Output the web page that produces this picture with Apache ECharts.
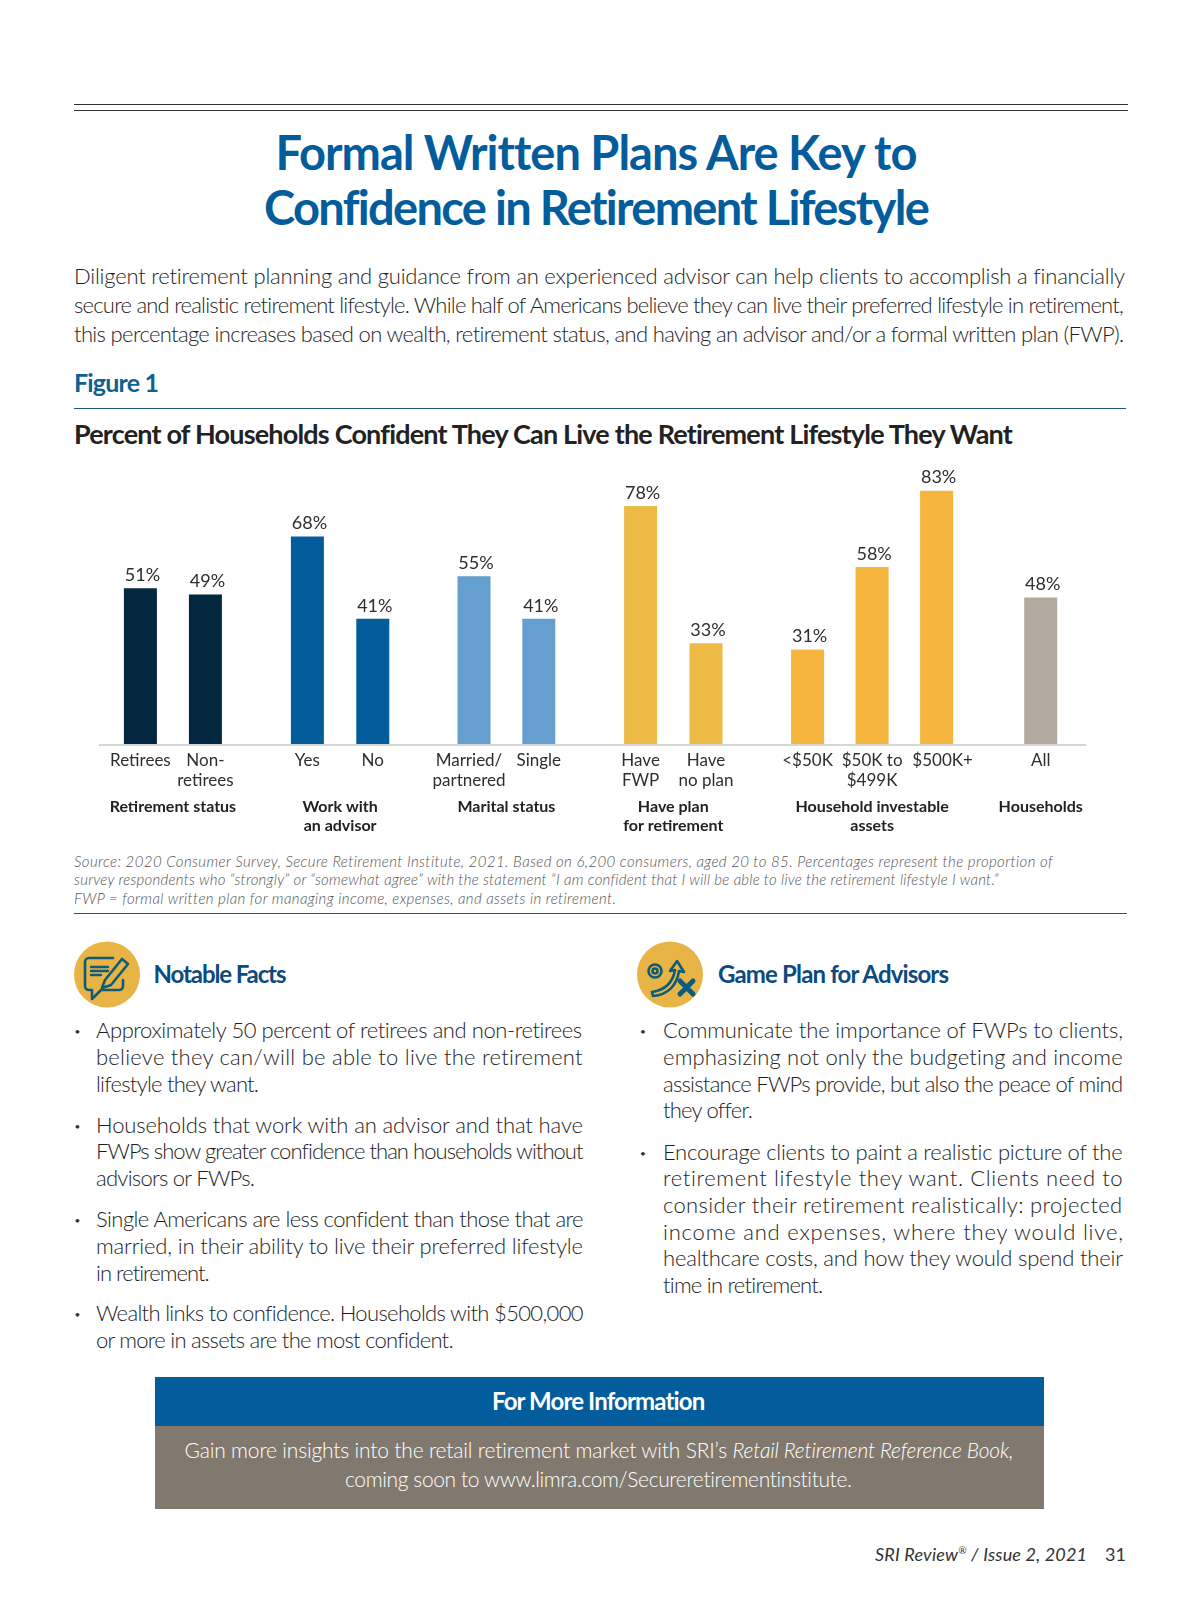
<!DOCTYPE html>
<html><head><meta charset="utf-8"><title>Formal Written Plans</title>
<script src="https://cdn.jsdelivr.net/npm/echarts@6/dist/echarts.min.js"></script>
<style>
html,body{margin:0;padding:0;background:#fff;width:1200px;height:1606px;overflow:hidden;font-family:Lato,sans-serif}
#page{position:relative;width:1200px;height:1606px;overflow:hidden}
#chart{position:absolute;left:0;top:450px;width:1200px;height:400px}
.box,.rule,.ic{position:absolute}
.t{position:absolute;white-space:nowrap;line-height:1.2}
</style></head><body><div id="page">
<div class="rule" style="left:74px;top:104px;width:1054px;height:1px;background:#333"></div>
<div class="rule" style="left:74px;top:110px;width:1054px;height:1px;background:#333"></div>
<div class="rule" style="left:74px;top:408px;width:1052px;height:1px;background:#1f5a7a"></div>
<div class="rule" style="left:74px;top:913px;width:1053px;height:1px;background:#1f5a7a"></div>
<div class="box" style="left:155px;top:1377px;width:889px;height:49px;background:#035c9c"></div>
<div class="box" style="left:155px;top:1426px;width:889px;height:83px;background:#82796e"></div>
<svg class="ic" style="left:73px;top:941px" width="68" height="68" viewBox="0 0 68 68">
 <circle cx="34" cy="33.5" r="33" fill="#e8b446"/>
 <g fill="none" stroke="#0f5c78" stroke-width="2.6" stroke-linejoin="round" stroke-linecap="round">
  <path d="M40 17H16a4 4 0 0 0-4 4v24a4 4 0 0 0 4 4h3v9l9-9h18a4 4 0 0 0 4-4v-6"/>
  <path d="M29 47l3-8 17-21 6 5-17 21z"/>
  <path d="M18 26h17M18 30h17M18 34h10" stroke-width="2.4"/>
 </g></svg>
<svg class="ic" style="left:637px;top:941px" width="68" height="68" viewBox="0 0 68 68">
 <circle cx="33" cy="33.5" r="33" fill="#e8b446"/>
 <g fill="none" stroke="#0f5c78" stroke-width="2.6" stroke-linecap="round" stroke-linejoin="round">
  <circle cx="18" cy="30" r="6.5"/><circle cx="18" cy="30" r="2.5"/>
  <path d="M15 51c13-2 21-10 23-22l-5 1 7-10 7 11-5-1c-2 14-11 24-26 25z"/>
  <path d="M43 40l13 13M56 40L43 53" stroke-width="5"/>
 </g></svg>
<div id="chart"></div></div>
<script>
// chart data
const retirementCats=['Retirees','Non-\nretirees'], retirementVals=[51,49];
const advisorCats=['Yes','No'], advisorVals=[68,41];
const maritalCats=['Married/\npartnered','Single'], maritalVals=[55,41];
const planCats=['Have\nFWP','Have\nno plan'], planVals=[78,33];
const assetCats=['<$50K','$50K to\n$499K','$500K+'], assetVals=[31,58,83];
const householdCats=['All'], householdVals=[48];
const groupNames=['Retirement status','Work with\nan advisor','Marital status','Have plan\nfor retirement','Household investable\nassets','Households'];

// groups: [categories, values, colour, centre of first bar, bar spacing]
const groups=[
 [retirementCats,retirementVals,'#03273f',140.4,65],
 [advisorCats,advisorVals,'#035c9c',307.4,65.4],
 [maritalCats,maritalVals,'#649fd0',474,64.8],
 [planCats,planVals,'#edba45',640.6,65.4],
 [assetCats,assetVals,'#f6b53f',807.6,64.5],
 [householdCats,householdVals,'#b3aa9f',1040.7,65]
];
// small sideways nudges of category labels, as set in the reference
const labelNudge={'Married/\npartnered':{padding:[0,10,0,0]},'$500K+':{padding:[0,0,0,12]}};
const chart=echarts.init(document.getElementById('chart'));
const ff='Lato';
chart.setOption({
 animation:false,
 grid:groups.map(g=>({left:g[3]-g[4]/2,width:g[4]*g[0].length,top:19.3,height:274.7})),
 xAxis:groups.map((g,i)=>({type:'category',gridIndex:i,
   data:g[0].map(c=>labelNudge[c]?{value:c,textStyle:labelNudge[c]}:c),
   axisLine:{show:false},axisTick:{show:false},
   axisLabel:{interval:0,margin:7,fontFamily:ff,fontSize:17,lineHeight:19.5,color:'#2e2e2e'},
   name:groupNames[i],nameLocation:'middle',nameGap:53,
   nameTextStyle:{fontFamily:ff,fontWeight:'bold',fontSize:16,lineHeight:19.5,color:'#222',verticalAlign:'top'}})),
 yAxis:groups.map((g,i)=>({type:'value',gridIndex:i,min:0,max:90,interval:30,show:false,splitLine:{show:false}})),
 series:groups.map((g,i)=>({type:'bar',xAxisIndex:i,yAxisIndex:i,data:g[1],barWidth:33,
   itemStyle:{color:g[2]},
   label:{show:true,position:'top',distance:4,offset:[2,0],formatter:'{c}%',fontFamily:ff,fontSize:18,color:'#2e2e2e'}})),
 graphic:[{type:'rect',left:99,top:294,shape:{width:987,height:2},style:{fill:'#d6d6d6'},silent:true}]
});

// page copy: [x, baseline, target width or 0, text]
const page=document.getElementById('page');
function put(x,base,w,html,style){
 const d=document.createElement('div');d.className='t';d.innerHTML=html;
 Object.assign(d.style,style,{left:x+'px',top:'0px'});
 const strut=document.createElement('span');strut.style.cssText='display:inline-block;width:0;height:0';
 d.appendChild(strut);page.appendChild(d);
 d.style.top=(base-strut.getBoundingClientRect().bottom)+'px';
 if(w){const m=d.getBoundingClientRect().width,n=d.textContent.length;
  d.style.letterSpacing=((w-m)/(n-1))+'px';}
 return d;
}
const blue='#035c9c',body={fontSize:'22px',color:'#1e1e1e',fontWeight:300};
const headLines=[[275.5,170,640,'Formal Written Plans Are Key to'],[264,225,666,'Confidence in Retirement Lifestyle']];
headLines.forEach(l=>put(l[0],l[1],l[2],l[3],{fontSize:'47px',fontWeight:700,color:blue}));
const introLines=[[74,284,1051,'Diligent retirement planning and guidance from an experienced advisor can help clients to accomplish a financially'],
 [74,313,1051,'secure and realistic retirement lifestyle. While half of Americans believe they can live their preferred lifestyle in retirement,'],
 [74,342,1050,'this percentage increases based on wealth, retirement status, and having an advisor and/or a formal written plan (FWP).']];
introLines.forEach(l=>put(l[0],l[1],l[2],l[3],body));
put(74,392,85,'Figure 1',{fontSize:'25px',fontWeight:700,color:'#0f5f8f'});
put(74,444,939,'Percent of Households Confident They Can Live the Retirement Lifestyle They Want',{fontSize:'27px',fontWeight:700,color:'#222'});
const sourceLines=[[74,867,978,'Source: 2020 Consumer Survey, <i>Secure Retirement Institute, 2021.</i> Based on 6,200 consumers, aged 20 to 85. Percentages represent the proportion of'],
 [74,885,924,'survey respondents who “strongly” or “somewhat agree” with the statement “I am confident that I will be able to live the retirement lifestyle I want.”'],
 [74,904,541,'FWP = formal written plan for managing income, expenses, and assets in retirement.']];
sourceLines.forEach(l=>put(l[0],l[1],l[2],l[3],{fontSize:'15px',fontStyle:'italic',color:'#555',fontWeight:300}));
put(153.5,983,133,'Notable Facts',{fontSize:'24px',fontWeight:700,color:'#0d4a7d'});
put(718,983,231,'Game Plan for Advisors',{fontSize:'24px',fontWeight:700,color:'#0d4a7d'});
const leftLines=[[1038,487,'Approximately 50 percent of retirees and non-retirees'],[1065,487,'believe they can/will be able to live the retirement'],[1092,163,'lifestyle they want.'],
 [1133,487,'Households that work with an advisor and that have'],[1159,487,'FWPs show greater confidence than households without'],[1185.5,159,'advisors or FWPs.'],
 [1227,487,'Single Americans are less confident than those that are'],[1254,487,'married, in their ability to live their preferred lifestyle'],[1280.5,114,'in retirement.'],
 [1321,487,'Wealth links to confidence. Households with $500,000'],[1348,357,'or more in assets are the most confident.']];
leftLines.forEach(l=>put(96,l[0],l[1],l[2],body));
const rightLines=[[1038,460,'Communicate the importance of FWPs to clients,'],[1065,460,'emphasizing not only the budgeting and income'],[1092,460,'assistance FWPs provide, but also the peace of mind'],[1118,89,'they offer.'],
 [1160,460,'Encourage clients to paint a realistic picture of the'],[1186,460,'retirement lifestyle they want. Clients need to'],[1213,460,'consider their retirement realistically: projected'],[1239.5,460,'income and expenses, where they would live,'],[1266,460,'healthcare costs, and how they would spend their'],[1293,161,'time in retirement.']];
rightLines.forEach(l=>put(663,l[0],l[1],l[2],body));
[1038,1133,1227,1321].forEach(b=>put(74.5,b-3,0,'•',{fontSize:'10px',color:'#333'}));
[1038,1160].forEach(b=>put(640,b-3,0,'•',{fontSize:'10px',color:'#333'}));
put(492,1410,213.6,'For More Information',{fontSize:'24px',fontWeight:700,color:'#fff'});
put(184.6,1458,829,'Gain more insights into the retail retirement market with SRI’s <i>Retail Retirement Reference Book,</i>',{fontSize:'21px',color:'#fff',fontWeight:300});
put(345,1487,508,'coming soon to www.limra.com/Secureretirementinstitute.',{fontSize:'21px',color:'#fff',fontWeight:300});
put(875,1561,212,'SRI Review<sup style="font-size:10px;line-height:0">®</sup> / Issue 2, 2021',{fontSize:'18px',fontStyle:'italic',color:'#333'});
put(1105,1561,0,'31',{fontSize:'18px',color:'#333'});
</script></body></html>
